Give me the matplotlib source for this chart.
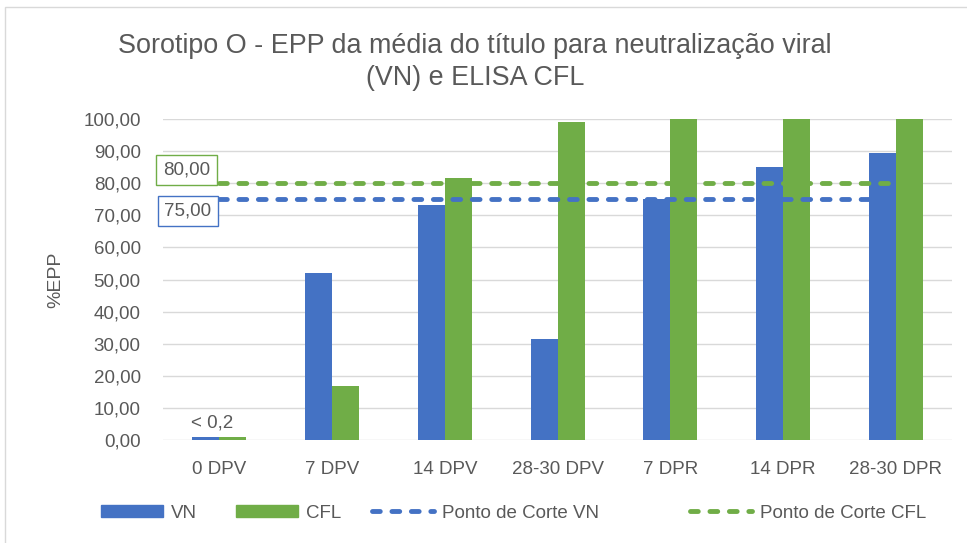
import numpy as np
import matplotlib
matplotlib.use("Agg")
from matplotlib import pyplot as plt
from matplotlib.patches import Rectangle
from matplotlib.lines import Line2D

plt.rcParams['font.family'] = ['Liberation Sans', 'DejaVu Sans']

# dados
categorias = ["0 DPV", "7 DPV", "14 DPV", "28-30 DPV", "7 DPR", "14 DPR", "28-30 DPR"]
vn  = [0.8, 52.0, 73.3, 31.6, 75.1, 85.0, 89.5]
cfl = [0.8, 16.8, 81.5, 99.0, 100.0, 100.0, 100.0]
corte_vn  = 75.0
corte_cfl = 80.0
yticks = np.arange(0, 101, 10)

AZUL  = "#4472C4"
VERDE = "#70AD47"
CINZA = "#595959"
TRACO = (0, (1.6, 2.4))

fig = plt.figure(figsize=(9.67, 5.43), dpi=100)
ax = fig.add_axes([0.1686, 0.1897, 0.816, 0.5911])

x = np.arange(len(categorias))
w = 0.24
ax.bar(x - w / 2, vn, width=w, color=AZUL, zorder=2)
ax.bar(x + w / 2, cfl, width=w, color=VERDE, zorder=2)

# linhas de ponto de corte
ax.plot([x[0], x[-1]], [corte_cfl, corte_cfl], color=VERDE, lw=3.5,
        ls=TRACO, dash_capstyle="round", zorder=3)
ax.plot([x[0], x[-1]], [corte_vn, corte_vn], color=AZUL, lw=3.5,
        ls=TRACO, dash_capstyle="round", zorder=3)

ax.set_xlim(-0.5, len(categorias) - 0.5)
ax.set_ylim(0, 100)
ax.set_yticks(yticks)
ax.set_yticklabels([f"{v:.2f}".replace(".", ",") for v in yticks])
ax.set_xticks(x)
ax.set_xticklabels(categorias)
ax.tick_params(length=0, labelsize=13.5, colors=CINZA, pad=16)
ax.tick_params(axis="x", pad=15)
ax.grid(axis="y", color="#D9D9D9", lw=1, zorder=0)
for s in ax.spines.values():
    s.set_visible(False)
ax.set_ylabel("%EPP", fontsize=14, color=CINZA, labelpad=14)

# rótulos
ax.text(x[0] - 0.25, 2.5, "< 0,2", fontsize=13.5, color=CINZA, ha="left", va="bottom")
ax.text(-0.5, 84.1, "80,00", fontsize=13.5, color=CINZA, ha="left", va="center",
        bbox=dict(boxstyle="square,pad=0.35", fc="white", ec=VERDE, lw=1))
ax.text(-0.49, 71.3, "75,00", fontsize=13.5, color=CINZA, ha="left", va="center",
        bbox=dict(boxstyle="square,pad=0.35", fc="white", ec=AZUL, lw=1))

fig.text(0.491, 0.886, "Sorotipo O - EPP da média do título para neutralização viral\n(VN) e ELISA CFL",
         ha="center", va="center", fontsize=19.4, color=CINZA, linespacing=1.3)

# legenda (uma entrada por posição, como no Excel)
handles = [
    Rectangle((0, 0), 1, 1, color=AZUL),
    Rectangle((0, 0), 1, 1, color=VERDE),
    Line2D([], [], color=AZUL, lw=3.5, ls=TRACO, dash_capstyle="round"),
    Line2D([], [], color=VERDE, lw=3.5, ls=TRACO, dash_capstyle="round"),
]
labels = ["VN", "CFL", "Ponto de Corte VN", "Ponto de Corte CFL"]
pos_leg = [0.1044, 0.244, 0.3847, 0.7135]
for h, lab, px in zip(handles, labels, pos_leg):
    leg = fig.legend([h], [lab], loc="center left", bbox_to_anchor=(px, 0.055),
                     frameon=False, fontsize=13.5, labelcolor=CINZA, handlelength=3.3,
                     handleheight=0.6, handletextpad=0.45, borderpad=0, borderaxespad=0)

# moldura
fig.add_artist(Rectangle((0.005, -0.01), 1.0, 0.997, transform=fig.transFigure,
                         fill=False, ec="#D9D9D9", lw=1))

fig.savefig("out.png", dpi=100)
